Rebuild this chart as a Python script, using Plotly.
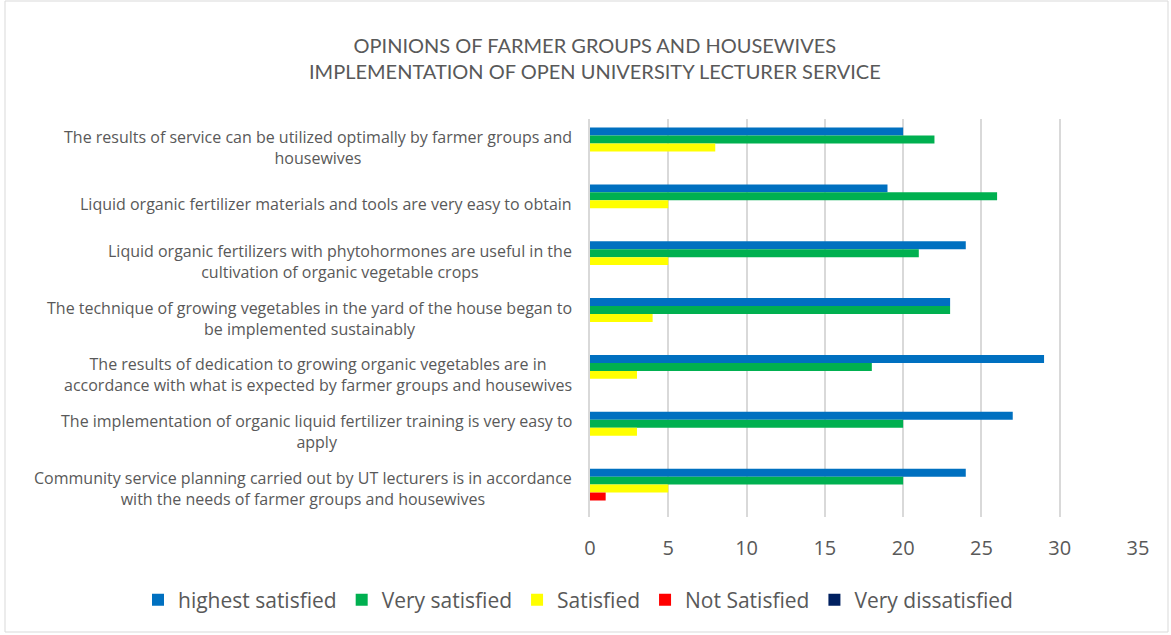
import plotly.graph_objects as go

categories = [
    "The results of service can be utilized optimally by farmer groups and<br>housewives",
    "Liquid organic fertilizer materials and tools are very easy to obtain",
    "Liquid organic fertilizers with phytohormones are useful in the<br>cultivation of organic vegetable crops",
    "The technique of growing vegetables in the yard of the house began to<br>be implemented sustainably",
    "The results of dedication to growing organic vegetables are in<br>accordance with what is expected by farmer groups and housewives",
    "The implementation of organic liquid fertilizer training is very easy to<br>apply",
    "Community service planning carried out by UT lecturers is in accordance<br>with the needs of farmer groups and housewives",
]
highest_satisfied = [20, 19, 24, 23, 29, 27, 24]
very_satisfied = [22, 26, 21, 23, 18, 20, 20]
satisfied = [8, 5, 5, 4, 3, 3, 5]
not_satisfied = [0, 0, 0, 0, 0, 0, 1]
very_dissatisfied = [0, 0, 0, 0, 0, 0, 0]

series = [
    ("highest satisfied", highest_satisfied, "#0070C0"),
    ("Very satisfied", very_satisfied, "#00B050"),
    ("Satisfied", satisfied, "#FFFF00"),
    ("Not Satisfied", not_satisfied, "#FF0000"),
    ("Very dissatisfied", very_dissatisfied, "#002060"),
]

FONT = "Open Sans"
GRAY = "#595959"
W, H = 1171, 635
L, R, T, B = 590, 33, 119, 118
PW, PH = W - L - R, H - T - B

fig = go.Figure()
for name, vals, col in series:
    fig.add_trace(go.Bar(
        y=categories, x=vals, name=name, orientation="h",
        marker=dict(color=col, line=dict(width=0)),
    ))

for c in categories:
    fig.add_annotation(
        x=0, xref="paper", xanchor="right", xshift=-16,
        y=c, yref="y", yanchor="middle",
        text=c, align="center", showarrow=False,
        font=dict(family=FONT, size=16, color=GRAY),
    )

fig.update_layout(
    width=W, height=H,
    paper_bgcolor="white", plot_bgcolor="white",
    barmode="group", bargap=0.3, bargroupgap=0,
    margin=dict(l=L, r=R, t=T, b=B, autoexpand=False),
    title=dict(
        text="OPINIONS OF FARMER GROUPS AND HOUSEWIVES<br>IMPLEMENTATION OF OPEN UNIVERSITY LECTURER SERVICE",
        x=0.508, xanchor="center", y=1 - 52.5 / H, yanchor="middle",
        font=dict(family="Lato", size=20, color=GRAY),
    ),
    font=dict(family=FONT, color=GRAY),
    legend=dict(
        orientation="h", xref="paper", yref="paper",
        x=(138 - L) / PW, xanchor="left", y=-(600 - (T + PH)) / PH, yanchor="middle",
        font=dict(family=FONT, size=21, color=GRAY),
        traceorder="normal", itemwidth=30,
    ),
    xaxis=dict(
        range=[0, 35], dtick=5, showgrid=True, gridcolor="#D9D9D9", gridwidth=1.5,
        zeroline=False, showline=False, ticks="outside", tickcolor="rgba(0,0,0,0)",
        ticklen=13, tickfont=dict(family=FONT, size=20, color=GRAY),
    ),
    yaxis=dict(
        autorange="reversed", showticklabels=False, ticks="",
        showline=True, linecolor="#D9D9D9", linewidth=1.5, showgrid=False,
    ),
)
fig.add_shape(type="rect", xref="paper", yref="paper",
              x0=-(L - 5) / PW, x1=1 + (R - 3) / PW,
              y0=-(B - 3) / PH, y1=1 + (T - 1) / PH,
              line=dict(color="#D9D9D9", width=1), fillcolor="rgba(0,0,0,0)")

fig.write_html("out.html")
